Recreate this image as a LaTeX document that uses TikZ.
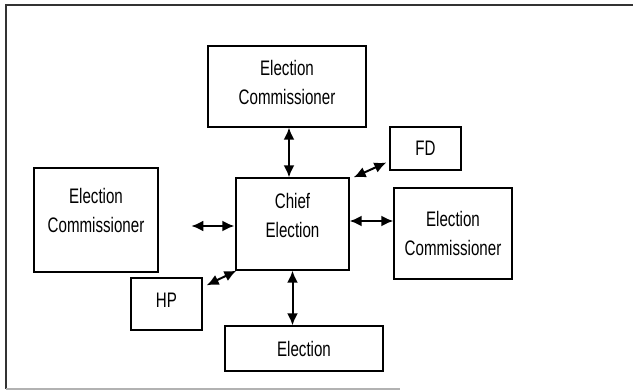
\documentclass[tikz,border=0pt]{standalone}
\usepackage{fontspec}
\setmainfont{Liberation Sans}[FakeStretch=0.72]
\usetikzlibrary{arrows.meta, positioning}

\begin{document}
\begin{tikzpicture}[
        x=1pt, y=-1pt,
        >={Latex[length=12pt, width=11pt]},
        every node/.style={draw, line width=1.3pt, align=center, inner sep=0pt,
            font=\fontsize{21}{29}\selectfont},
        link/.style={<->, line width=2pt}
    ]
        \useasboundingbox (0,0) rectangle (633,390);
        % Khung ngoài
        \draw[line width=1.5pt, black!80] (633,5) -- (6,5) -- (6,389);
        \draw[line width=1.5pt, black!30] (6,389) -- (400,389);

        % Các hộp
        \node [minimum width=158pt, minimum height=81pt, text depth=8pt] (top) at (287,86.5) {Election\\Commissioner};
        \node [minimum width=71pt, minimum height=43pt] (FD) at (425.5,148.5) {FD};
        \node [minimum width=124pt, minimum height=104pt, text depth=20pt] (left) at (96,220) {Election\\Commissioner};
        \node [minimum width=113pt, minimum height=92pt, text depth=18pt] (chief) at (292.5,224) {Chief\\Election};
        \node [minimum width=118pt, minimum height=91pt] (right) at (453,233.5) {Election\\Commissioner};
        \node [minimum width=71pt, minimum height=52pt, text depth=8pt] (HP) at (166.5,304) {HP};
        \node [minimum width=158pt, minimum height=45pt] (bottom) at (304,348.5) {Election};

        % Các mũi tên hai chiều
        \draw[link] ([xshift=2]top.south) -- ([xshift=2]top.south |- chief.north);
        \draw[link] ([shift={(4,0)}]chief.north east) -- ([shift={(-3,14)}]FD.west);
        \draw[link] ([shift={(-44,2)}]chief.west) -- ([shift={(-1,2)}]chief.west);
        \draw[link] ([yshift=3]chief.east) -- ([yshift=3]chief.east -| right.west);
        \draw[link] ([shift={(4,8)}]HP.north east) -- ([xshift=1]chief.south west);
        \draw[link] (chief.south) -- (chief.south |- bottom.north);
    \end{tikzpicture}
\end{document}
